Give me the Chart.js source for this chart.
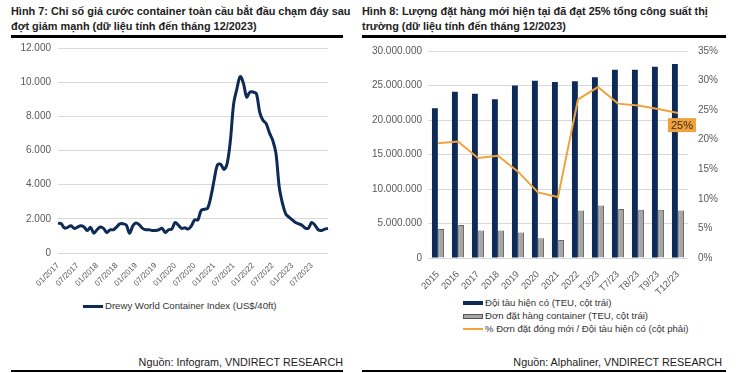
<!DOCTYPE html>
<html lang="vi">
<head>
  <meta charset="UTF-8">
  <title>Hình 7 & Hình 8</title>
  <script src="https://cdn.jsdelivr.net/npm/chart.js"></script>
  <style>
    body { margin: 0; background: #fff; font-family: "Liberation Sans", Arial, sans-serif; }
    #page { position: relative; width: 738px; height: 373px; overflow: hidden; }
    .title { position: absolute; top: 4px; font-weight: bold; font-size: 10.9px; line-height: 14.5px; color: #222; white-space: nowrap; }
    .rule { position: absolute; background: #000; }
    .box { position: absolute; }
    .legend { position: absolute; font-size: 9.6px; color: #333; line-height: 13px; white-space: nowrap; }
    .legend span.sw { display: inline-block; width: 20px; vertical-align: middle; margin-right: 2px; box-sizing: border-box; }
    .source { position: absolute; font-size: 10.8px; color: #222; white-space: nowrap; }
  </style>
</head>
<body>
<div id="page">

  <!-- Hình 7 -->
  <div class="title" style="left:11px">Hình 7: Chỉ số giá cước container toàn cầu bắt đầu chạm đáy sau<br>đợt giảm mạnh (dữ liệu tính đến tháng 12/2023)</div>
  <div class="rule" style="left:11px; top:35px; width:332px; height:3px"></div>
  <div class="box" style="left:0; top:35px; width:350px; height:255px"><canvas id="c7"></canvas></div>
  <div class="legend" style="left:83px; top:299px">
    <span class="sw" style="height:3px; background:#0e2a56"></span>Drewy World Container Index (US$/40ft)
  </div>
  <div class="source" style="right:395px; top:356px">Nguồn: Infogram, VNDIRECT RESEARCH</div>
  <div class="rule" style="left:11px; top:370px; width:332px; height:2px"></div>

  <!-- Hình 8 -->
  <div class="title" style="left:362px">Hình 8: Lượng đặt hàng mới hiện tại đã đạt 25% tổng công suất thị<br>trường (dữ liệu tính đến tháng 12/2023)</div>
  <div class="rule" style="left:362px; top:35px; width:364px; height:3px"></div>
  <div class="box" style="left:368px; top:35px; width:370px; height:260px"><canvas id="c8"></canvas></div>
  <div class="legend" style="left:463px; top:296px">
    <div><span class="sw" style="height:4px; background:#0e2a56"></span>Đội tàu hiện có (TEU, cột trái)</div>
    <div><span class="sw" style="height:5px; background:#a6a6a6; border:1px solid #555"></span>Đơn đặt hàng container (TEU, cột trái)</div>
    <div><span class="sw" style="height:2px; background:#f0a33c"></span>% Đơn đặt đóng mới / Đội tàu hiện có (cột phải)</div>
  </div>
  <div class="source" style="right:16px; top:356px">Nguồn: Alphaliner, VNDIRECT RESEARCH</div>
  <div class="rule" style="left:362px; top:370px; width:364px; height:2px"></div>

</div>

<script>
// Hình 7: monthly Drewry index, 01/2017 - 12/2023
const months = [];
for (let y = 2017; y <= 2023; y++) {
  for (let m = 1; m <= 12; m++) months.push(String(m).padStart(2, '0') + '/' + y);
}
const wciValues = [
  1750, 1710, 1460, 1500, 1590, 1440, 1520, 1590, 1520, 1320, 1500, 1160,
  1360, 1520, 1440, 1200, 1360, 1360, 1520, 1710, 1710, 1630, 1160, 1590,
  1750, 1650, 1440, 1360, 1360, 1320, 1320, 1360, 1440, 1200, 1360, 1400,
  1790, 1630, 1440, 1480, 1400, 1590, 1940, 1940, 2490, 2560, 2620, 3300,
  4270, 5150, 5200, 4890, 5240, 6600, 8740, 9610, 10330, 9940, 9130, 9420,
  9420, 9320, 8250, 7770, 7570, 7030, 6600, 5830, 3880, 2910, 2290, 2100,
  1940, 1790, 1710, 1630, 1460, 1460, 1790, 1630, 1360, 1320, 1400, 1440
];

// Hình 8
const fleetLabels = ['2015', '2016', '2017', '2018', '2019', '2020', '2021', '2022', 'T3/23', 'T7/23', 'T8/23', 'T9/23', 'T12/23'];
const fleetTeu = [21700000, 24100000, 23800000, 23000000, 25000000, 25700000, 25500000, 25600000, 26200000, 27300000, 27300000, 27700000, 28100000];
const orderTeu = [4200000, 4800000, 4000000, 4000000, 3700000, 2850000, 2600000, 6900000, 7600000, 7100000, 7000000, 7000000, 6900000];
const orderPct = [19.4, 19.7, 16.9, 17.3, 14.6, 11.1, 10.3, 26.8, 28.9, 26.1, 25.8, 25.2, 24.5];

const tickFont = { family: '"Liberation Sans", Arial, sans-serif', size: 10 };
const tickColor = '#595959';
const gridColor = '#d9d9d9';

function dots(v) {
  return String(v).replace(/\B(?=(\d{3})+(?!\d))/g, '.');
}

new Chart(document.getElementById('c7'), {
  type: 'line',
  data: {
    labels: months,
    datasets: [{
      label: 'Drewy World Container Index (US$/40ft)',
      data: wciValues,
      borderColor: '#0e2a56',
      borderWidth: 3,
      pointRadius: 0,
      tension: 0.35,
      fill: false
    }]
  },
  options: {
    responsive: true,
    maintainAspectRatio: false,
    animation: false,
    layout: { padding: { top: 2, right: 22, left: 0, bottom: 0 } },
    plugins: { legend: { display: false }, tooltip: { enabled: false } },
    scales: {
      x: {
        offset: false,
        grid: { display: false },
        border: { display: false },
        ticks: {
          autoSkip: false,
          maxRotation: 45,
          minRotation: 45,
          padding: 0,
          color: tickColor,
          font: { family: tickFont.family, size: 8 },
          callback: function (v, i) { return i % 6 === 0 ? months[i] : ''; }
        },
        afterFit: s => { s.height = 37; }
      },
      y: {
        min: 0,
        max: 12000,
        ticks: { stepSize: 2000, color: tickColor, font: tickFont, padding: 7, callback: v => dots(v) },
        grid: { color: gridColor, drawTicks: false },
        border: { display: false },
        afterFit: s => { s.width = 58; }
      }
    }
  }
});

// small orange label on the last point of the % series
const lastLabel = {
  id: 'lastLabel',
  afterDatasetsDraw(chart) {
    const meta = chart.getDatasetMeta(2);
    const pt = meta.data[meta.data.length - 1];
    const ctx = chart.ctx;
    const txt = Math.round(orderPct[orderPct.length - 1]) + '%';
    ctx.save();
    ctx.font = '11px "Liberation Sans", Arial, sans-serif';
    const w = ctx.measureText(txt).width + 6;
    const cx = pt.x + 4, cy = pt.y + 12;
    ctx.fillStyle = '#f0a33c';
    ctx.fillRect(cx - w / 2, cy - 7, w, 14);
    ctx.fillStyle = '#3b2a12';
    ctx.textAlign = 'center';
    ctx.textBaseline = 'middle';
    ctx.fillText(txt, cx, cy + 0.5);
    ctx.restore();
  }
};

new Chart(document.getElementById('c8'), {
  type: 'bar',
  data: {
    labels: fleetLabels,
    datasets: [
      {
        label: 'Đội tàu hiện có (TEU, cột trái)',
        data: fleetTeu,
        backgroundColor: '#0e2a56',
        yAxisID: 'y',
        order: 2,
        barPercentage: 0.95,
        categoryPercentage: 0.62
      },
      {
        label: 'Đơn đặt hàng container (TEU, cột trái)',
        data: orderTeu,
        backgroundColor: '#a6a6a6',
        borderColor: '#666',
        borderWidth: 1,
        yAxisID: 'y',
        order: 2,
        barPercentage: 0.95,
        categoryPercentage: 0.62
      },
      {
        type: 'line',
        label: '% Đơn đặt đóng mới / Đội tàu hiện có (cột phải)',
        data: orderPct,
        borderColor: '#f0a33c',
        borderWidth: 2,
        pointRadius: 0,
        tension: 0,
        yAxisID: 'y1',
        order: 1
      }
    ]
  },
  options: {
    responsive: true,
    maintainAspectRatio: false,
    animation: false,
    layout: { padding: { top: 2, left: 0, right: 0, bottom: 0 } },
    plugins: { legend: { display: false }, tooltip: { enabled: false } },
    scales: {
      x: {
        grid: { display: false },
        border: { display: false },
        ticks: {
          autoSkip: false,
          maxRotation: 45,
          minRotation: 45,
          color: tickColor,
          font: { family: tickFont.family, size: 9.5 }
        },
        afterFit: s => { s.height = 37; }
      },
      y: {
        position: 'left',
        min: 0,
        max: 30000000,
        ticks: { stepSize: 5000000, color: tickColor, font: tickFont, padding: 6, callback: v => dots(v) },
        grid: { color: gridColor, drawTicks: false },
        border: { display: false },
        afterFit: s => { s.width = 60; }
      },
      y1: {
        position: 'right',
        min: 0,
        max: 35,
        ticks: { stepSize: 5, color: tickColor, font: tickFont, padding: 10, callback: v => v + '%' },
        grid: { display: false, drawTicks: false },
        border: { display: false },
        afterFit: s => { s.width = 50; }
      }
    }
  },
  plugins: [lastLabel]
});
</script>
</body>
</html>
